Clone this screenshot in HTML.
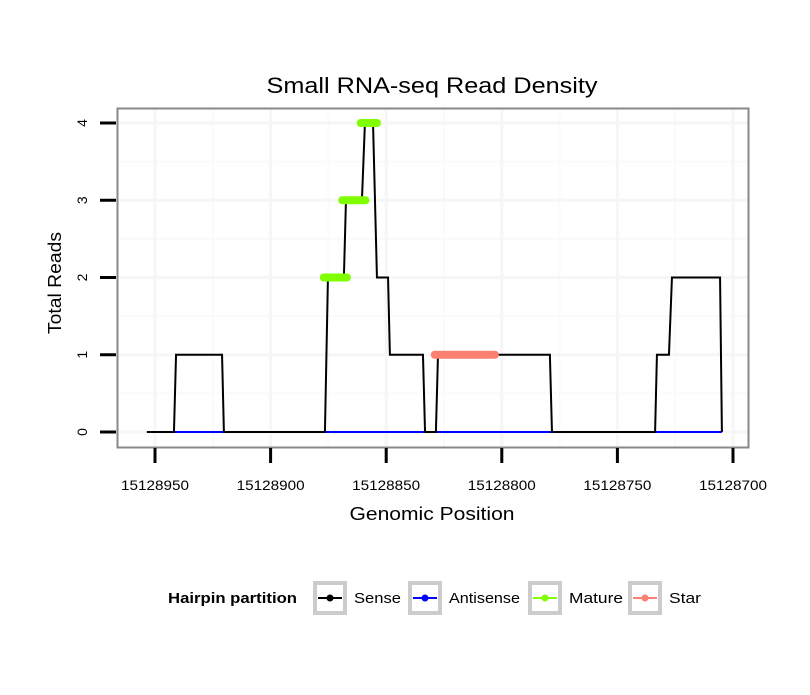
<!DOCTYPE html>
<html><head><meta charset="utf-8"><style>
body{margin:0;background:#fff;font-family:"Liberation Sans",sans-serif}
</style></head><body>
<svg id="chart" width="810" height="690" xmlns="http://www.w3.org/2000/svg" font-family="Liberation Sans, sans-serif">
<rect width="810" height="690" fill="#fff"/>
<text x="432" y="93" font-size="22" text-anchor="middle" textLength="331" lengthAdjust="spacingAndGlyphs">Small RNA-seq Read Density</text>
<g id="grid"></g>
<g id="marks"></g>
<rect x="117.5" y="108.5" width="631" height="339" fill="none" stroke="#888" stroke-width="2"/>
<g id="axes"></g>
<text transform="translate(61,283) rotate(-90)" font-size="18" text-anchor="middle" textLength="102" lengthAdjust="spacingAndGlyphs">Total Reads</text>
<text x="432" y="520" font-size="18" text-anchor="middle" textLength="165" lengthAdjust="spacingAndGlyphs">Genomic Position</text>
<g font-size="15">
<text x="168" y="603" font-weight="bold" textLength="129" lengthAdjust="spacingAndGlyphs">Hairpin partition</text>
<g id="legend"></g>
</g>
</svg>
<script>
const xTicks=[15128950,15128900,15128850,15128800,15128750,15128700];
const yTicks=[0,1,2,3,4];
const senseX=[15128953.5,15128941.8,15128940.9,15128921,15128920.2,15128876.5,15128875.2,15128868.3,15128867.4,15128860.5,15128859.2,15128855.7,15128854,15128849.2,15128848.4,15128834.1,15128833.2,15128828.5,15128827.6,15128779.2,15128778.3,15128733.7,15128732.9,15128727.7,15128726.4,15128705.6,15128704.8];
const senseY=[0,0,1,1,0,0,2,2,3,3,4,4,2,2,1,1,0,0,1,1,0,0,1,1,2,2,0];
const antisenseX=[15128953.5,15128704.8];
const antisenseY=[0,0];
const matureStart=[15128877,15128869,15128861];
const matureEnd=[15128867,15128859,15128854];
const matureY=[2,3,4];
const starStart=[15128829];
const starEnd=[15128803];
const starY=[1];
const NS="http://www.w3.org/2000/svg";
const sx=v=>155+(15128950-v)*2.312;
const sy=v=>432-v*77.25;
function mk(p,tag,a){const e=document.createElementNS(NS,tag);for(const k in a)e.setAttribute(k,a[k]);p.appendChild(e);return e;}
const grid=document.getElementById('grid'),marks=document.getElementById('marks'),axes=document.getElementById('axes');
for(let i=0;i<xTicks.length-1;i++){const x=(sx(xTicks[i])+sx(xTicks[i+1]))/2;const l=mk(grid,'line',{x1:x,x2:x,y1:109,y2:447,stroke:'#fafafa','stroke-width':2});

}
for(let i=0;i<yTicks.length-1;i++){const y=(sy(yTicks[i])+sy(yTicks[i+1]))/2;const l=mk(grid,'line',{x1:118,x2:748,y1:y,y2:y,stroke:'#fafafa','stroke-width':2});

}
xTicks.forEach(t=>{const x=sx(t);const l=mk(grid,'line',{x1:x,x2:x,y1:109,y2:447,stroke:'#f6f6f6','stroke-width':3});


const tk=mk(axes,'line',{x1:x,x2:x,y1:448,y2:463,stroke:'#000','stroke-width':3});


const tx=mk(axes,'text',{x:x,y:490,'font-size':14,'text-anchor':'middle',textLength:68,lengthAdjust:'spacingAndGlyphs'});tx.textContent=t;

});
yTicks.forEach(t=>{const y=sy(t);const l=mk(grid,'line',{x1:118,x2:748,y1:y,y2:y,stroke:'#f6f6f6','stroke-width':3});


const tk=mk(axes,'line',{x1:100,x2:116,y1:y,y2:y,stroke:'#000','stroke-width':3});


const tx=mk(axes,'text',{transform:`translate(87,${y}) rotate(-90)`,'font-size':14,'text-anchor':'middle'});tx.textContent=t;

});
const pts=(X,Y)=>X.map((v,i)=>sx(v)+','+sy(Y[i])).join(' ');
const a=mk(marks,'polyline',{points:pts(antisenseX,antisenseY),fill:'none',stroke:'#0000ff','stroke-width':2});


const s=mk(marks,'polyline',{points:pts(senseX,senseY),fill:'none',stroke:'#000','stroke-width':2});


matureY.forEach((v,i)=>{const l=mk(marks,'line',{x1:sx(matureStart[i]),x2:sx(matureEnd[i]),y1:sy(v),y2:sy(v),stroke:'#7fff00','stroke-width':8,'stroke-linecap':'round'});

});
starY.forEach((v,i)=>{const l=mk(marks,'line',{x1:sx(starStart[i]),x2:sx(starEnd[i]),y1:sy(v),y2:sy(v),stroke:'#fa8072','stroke-width':8,'stroke-linecap':'round'});

});
const leg=[['Sense','#000',313,47],['Antisense','#0000ff',408,71],['Mature','#7fff00',528,54],['Star','#fa8072',628,32]];
const lg=document.getElementById('legend');
leg.forEach(([n,c,x,w])=>{const g=mk(lg,'g',{});


mk(g,'rect',{x:x+2,y:583,width:30,height:30,fill:'#fff',stroke:'#ccc','stroke-width':4});
mk(g,'line',{x1:x+5,x2:x+29,y1:598,y2:598,stroke:c,'stroke-width':2});
mk(g,'circle',{cx:x+17,cy:598,r:3.5,fill:c});
const t=mk(g,'text',{x:x+41,y:603,'font-size':15,textLength:w,lengthAdjust:'spacingAndGlyphs'});t.textContent=n;});
</script>
</body></html>
